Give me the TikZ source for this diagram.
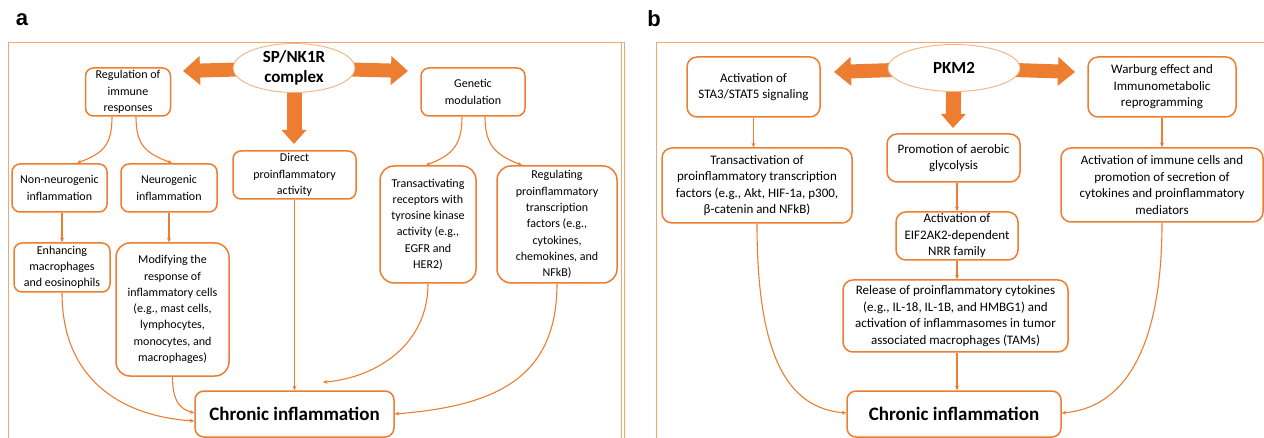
\documentclass[tikz,border=0pt]{standalone}
\usepackage{fontspec}
\setmainfont{Carlito}
\newfontfamily\labfont{Liberation Sans}
\usetikzlibrary{arrows.meta,shapes.geometric,backgrounds}
\definecolor{boxc}{HTML}{ED7D31}
\definecolor{framec}{HTML}{F4A672}
\definecolor{ellc}{HTML}{F4B183}
\tikzset{
  box/.style={draw=boxc, line width=1.5pt, rounded corners=8pt, fill=white, align=center,
    inner sep=1pt, font=\fontsize{12}{16.3}\selectfont},
  boxb/.style={box, rounded corners=10pt, font=\fontsize{13}{16.5}\selectfont},
  tall/.style={rounded corners=14pt},
  hub/.style={ellipse, draw=ellc, line width=0.9pt, fill=white, inner sep=0pt, align=center,
    font=\bfseries\fontsize{17}{20}\selectfont},
  endbox/.style={box, rounded corners=9pt, font=\bfseries\fontsize{19}{22}\selectfont},
  conn/.style={draw=boxc, line width=1.1pt, -{Stealth[length=4.5pt,width=4pt]}},
  bigarrow/.style={draw=boxc, line width=14pt, -{Triangle[length=17pt,width=28pt]}},
  bigdown/.style={draw=boxc, line width=15pt, -{Triangle[length=14pt,width=24pt]}},
  frameline/.style={draw=framec, line width=1pt},
  panellabel/.style={font=\labfont\bfseries\fontsize{22}{24}\selectfont, inner sep=0pt}
}
\begin{document}
\begin{tikzpicture}[x=1pt,y=-1pt]
\useasboundingbox (0,0) rectangle (1264,438);

% frames
\draw[frameline] (8,440) -- (8,43) -- (624.5,43);
\draw[frameline] (621.5,43) -- (621.5,440);
\draw[frameline, line width=0.8pt] (624.5,43) -- (624.5,440);
\draw[frameline] (656,440) -- (656,43) -- (1266,43);

\node[panellabel] (la) at (22,20) {a};
\node[panellabel] (lb) at (654,19) {b};

% ---------------- panel a ----------------
\node[hub, minimum width=122pt, minimum height=46pt] (sp) at (294,68) {SP/NK1R\\complex};
\node[box, minimum width=85pt, minimum height=48pt] (reg) at (128,92) {Regulation of\\immune\\responses};
\node[box, minimum width=104pt, minimum height=48pt] (gen) at (473,92) {Genetic\\modulation};
\node[box, minimum width=95pt, minimum height=48pt] (nonneuro) at (59.5,188) {Non-neurogenic\\inflammation};
\node[box, minimum width=96pt, minimum height=48pt] (neuro) at (169,188) {Neurogenic\\inflammation};
\node[box, minimum width=123pt, minimum height=48pt] (direct) at (294.5,175) {Direct\\proinflammatory\\activity};
\node[box, tall, minimum width=96pt, minimum height=117pt] (trans) at (428,224.5)
  {Transactivating\\receptors with\\tyrosine kinase\\activity (e.g.,\\EGFR and\\HER2)};
\node[box, tall, minimum width=120pt, minimum height=117pt] (regul) at (557,224.5)
  {Regulating\\proinflammatory\\transcription\\factors (e.g.,\\cytokines,\\chemokines, and\\NFkB)};
\node[box, minimum width=96pt, minimum height=49pt] (enh) at (62,267.5) {Enhancing\\macrophages\\and eosinophils};
\node[box, tall, minimum width=113pt, minimum height=133pt] (mod) at (172.5,309.5)
  {Modifying the\\response of\\inflammatory cells\\(e.g., mast cells,\\lymphocytes,\\monocytes, and\\macrophages)};
\node[endbox, minimum width=199pt, minimum height=46pt] (chronA) at (294.5,414) {Chronic inflammation};

\coordinate (tAL) at (183,71);
\coordinate (tAR) at (408,71);
\coordinate (tAD) at (294,144);
\begin{scope}[on background layer]
  \draw[bigarrow] (sp.center) -- (tAL);
  \draw[bigarrow] (sp.center) -- (tAR);
  \draw[bigdown] (sp.center) -- (tAD);
\end{scope}

\draw[conn] ([xshift=-16pt]reg.south) .. controls +(0,30) and +(25,-10) .. ([xshift=17.5pt]nonneuro.north);
\draw[conn] ([xshift=8pt]reg.south) .. controls +(0,30) and +(-25,-10) .. ([xshift=3pt]neuro.north);
\draw[conn] ([xshift=-11pt]gen.south) .. controls +(0,30) and +(25,-10) .. ([xshift=-2pt]trans.north);
\draw[conn] ([xshift=12pt]gen.south) .. controls +(0,30) and +(-25,-10) .. ([xshift=-35pt]regul.north);
\draw[conn] (enh.north |- nonneuro.south) -- (enh.north);
\draw[conn] (neuro.south) -- (neuro.south |- mod.north);
\draw[conn] (direct.south) -- (direct.south |- chronA.north);
\draw[conn] (enh.south) .. controls +(0,85) and +(-75,-5) .. ([yshift=-7pt]chronA.west);
\draw[conn] (mod.south) .. controls +(0,25) and +(-14,-4) .. ([yshift=1pt]chronA.west);
\draw[conn] (trans.south) .. controls +(0,60) and +(55,-5) .. ([xshift=28.5pt,yshift=8pt]chronA.north);
\draw[conn] (regul.south) .. controls +(0,95) and +(100,-8) .. (chronA.east);

% ---------------- panel b ----------------
\node[hub, minimum width=132pt, minimum height=47pt] (pkm) at (954,68) {PKM2};
\node[boxb, minimum width=133pt, minimum height=60pt] (stat) at (753.5,87) {Activation of\\STA3/STAT5 signaling};
\node[boxb, minimum width=148pt, minimum height=60pt] (war) at (1162,87) {Warburg effect and\\Immunometabolic\\reprogramming};
\node[boxb, minimum width=190pt, minimum height=75pt] (transb) at (757,185.5)
  {Transactivation of\\proinflammatory transcription\\factors (e.g., Akt, HIF-1a, p300,\\β-catenin and NFkB)};
\node[boxb, minimum width=133pt, minimum height=48pt] (prom) at (953.5,158) {Promotion of aerobic\\glycolysis};
\node[boxb, minimum width=122pt, minimum height=48pt] (eif) at (957,236) {Activation of\\EIF2AK2-dependent\\NRR family};
\node[boxb, minimum width=225pt, minimum height=72pt] (rel) at (955.5,316)
  {Release of proinflammatory cytokines\\(e.g., IL-18, IL-1B, and HMBG1) and\\activation of inflammasomes in tumor\\associated macrophages (TAMs)};
\node[boxb, minimum width=202pt, minimum height=74pt] (actimm) at (1162,185)
  {Activation of immune cells and\\promotion of secretion of\\cytokines and proinflammatory\\mediators};
\node[endbox, minimum width=214pt, minimum height=46pt] (chronB) at (954,414) {Chronic inflammation};

\coordinate (tBL) at (834,72);
\coordinate (tBR) at (1075,72);
\coordinate (tBD) at (953,128);
\begin{scope}[on background layer]
  \draw[bigarrow] (pkm.center) -- (tBL);
  \draw[bigarrow] (pkm.center) -- (tBR);
  \draw[bigdown] (pkm.center) -- (tBD);
\end{scope}

\draw[conn] (stat.south) -- (stat.south |- transb.north);
\draw[conn] (war.south) -- (war.south |- actimm.north);
\draw[conn] (eif.north |- prom.south) -- (eif.north);
\draw[conn] (eif.south) -- (eif.south |- rel.north);
\draw[conn] (eif.south |- rel.south) -- (eif.south |- chronB.north);
\draw[conn] (transb.south) .. controls +(0,130) and +(-60,-5) .. ([yshift=1pt]chronB.west);
\draw[conn] (actimm.south) .. controls +(0,130) and +(60,-5) .. ([yshift=1pt]chronB.east);
\end{tikzpicture}
\end{document}
